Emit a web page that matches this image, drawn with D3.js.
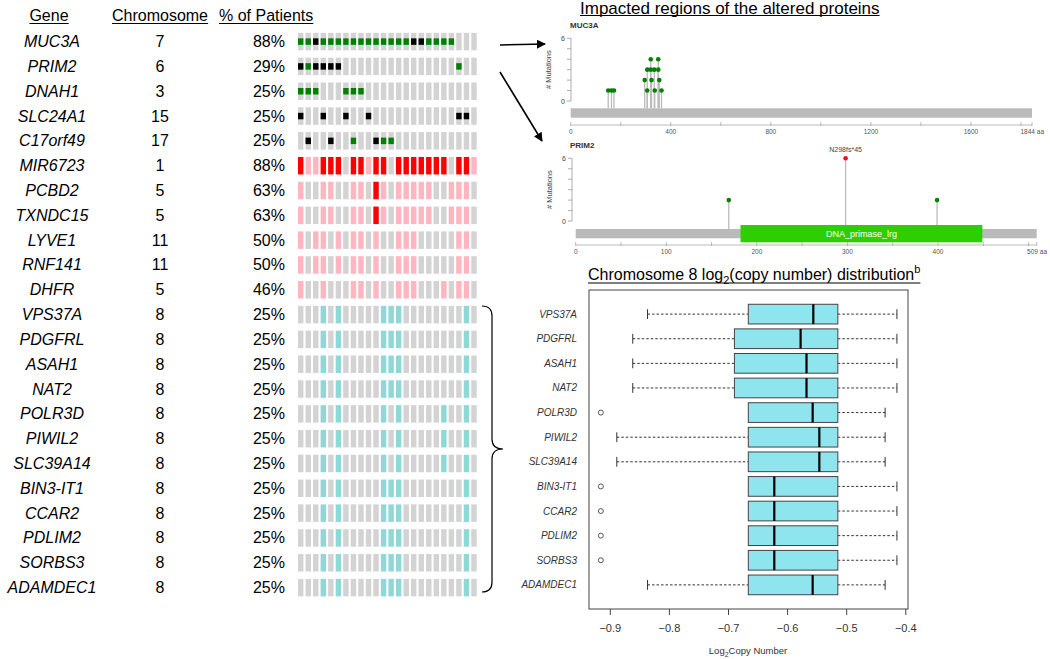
<!DOCTYPE html>
<html><head><meta charset="utf-8">
<script src="https://cdn.jsdelivr.net/npm/d3@7"></script>
<style>
body{margin:0;background:#fff}
svg{display:block}
text{font-family:"Liberation Sans",Arial,Helvetica,sans-serif}
</style>
</head><body>
<svg id="c" width="1050" height="659"></svg>
<script>
// ---------------- DATA ----------------
const genes = ["MUC3A","PRIM2","DNAH1","SLC24A1","C17orf49","MIR6723","PCBD2","TXNDC15","LYVE1","RNF141","DHFR",
  "VPS37A","PDGFRL","ASAH1","NAT2","POLR3D","PIWIL2","SLC39A14","BIN3-IT1","CCAR2","PDLIM2","SORBS3","ADAMDEC1"];
const chromosomes = ["7","6","3","15","17","1","5","5","11","11","5","8","8","8","8","8","8","8","8","8","8","8","8"];
const pctLabels = ["88%","29%","25%","25%","25%","88%","63%","63%","50%","50%","46%",
  "25%","25%","25%","25%","25%","25%","25%","25%","25%","25%","25%","25%"];
const patients = d3.range(1, 25);

// patient columns (1-based) carrying each alteration
const missense = {
  "MUC3A":[1,2,4,5,6,7,8,9,10,11,12,13,14,15,18,19,20,21],
  "PRIM2":[2,22],
  "DNAH1":[1,2,3,7,8,9],
  "C17orf49":[8,12,13]
};
const truncating = {
  "MUC3A":[3,16,17],
  "PRIM2":[1,3,4,5,6],
  "SLC24A1":[1,4,7,10,22,23],
  "C17orf49":[2,5,11]
};
const amplification = {
  "MIR6723":[1,4,5,6,8,9,11,12,14,15,16,17,18,19,20,22,23],
  "PCBD2":[11],
  "TXNDC15":[11]
};
const gain = {
  "MIR6723":[2,3,10,24],
  "PCBD2":[1,4,5,8,9,12,14,15,16,17,18,21,22,23],
  "TXNDC15":[1,4,5,8,9,12,14,15,16,17,18,21,22,23],
  "LYVE1":[1,3,4,6,8,9,11,14,15,16,22,23],
  "RNF141":[1,3,4,6,8,9,11,14,15,16,22,23],
  "DHFR":[1,4,8,9,11,14,15,16,20,22,23]
};
const shallowDel = {
  "VPS37A":[4,6,12,13,14,23],
  "PDGFRL":[4,6,12,13,14,23],
  "ASAH1":[4,6,12,13,14,23],
  "NAT2":[4,6,12,13,14,23],
  "POLR3D":[4,6,12,14,20,23],
  "PIWIL2":[4,6,12,14,20,23],
  "SLC39A14":[4,6,12,14,20,23],
  "BIN3-IT1":[4,6,12,13,14,23],
  "CCAR2":[4,6,12,13,14,23],
  "PDLIM2":[4,6,12,13,14,23],
  "SORBS3":[4,6,12,13,14,23],
  "ADAMDEC1":[4,6,12,13,14,23]
};

// lollipop plots
const muc3aLength = 1844;
const muc3aPos   = [150,163,173,296,306,306,320,320,323,334,336,350,350,354,363];
const muc3aCount = [1,1,1,2,3,1,4,3,2,3,1,4,3,2,1];
const muc3aTicks = [0,200,400,600,800,1000,1200,1400,1600,1800];
const muc3aTickLabels = [0,400,800,1200,1600];

const prim2Length = 509;
const prim2Pos   = [169,298,399];
const prim2Count = [2,6,2];
const prim2Type  = ["missense","truncating","missense"];
const prim2Labels = ["","N298fs*45",""];
const prim2DomainName = ["DNA_primase_lrg"];
const prim2DomainStart = [182];
const prim2DomainEnd = [449];
const prim2Ticks = [0,50,100,150,200,250,300,350,400,450,500];
const prim2TickLabels = [0,100,200,300,400];

// boxplot (chromosome 8 log2 copy number)
const boxGenes   = ["VPS37A","PDGFRL","ASAH1","NAT2","POLR3D","PIWIL2","SLC39A14","BIN3-IT1","CCAR2","PDLIM2","SORBS3","ADAMDEC1"];
const boxLow     = [-0.837,-0.862,-0.862,-0.862,-0.6665,-0.889,-0.889,-0.6665,-0.6665,-0.6665,-0.6665,-0.837];
const boxQ1      = [-0.6665,-0.690,-0.690,-0.690,-0.6665,-0.6665,-0.6665,-0.6665,-0.6665,-0.6665,-0.6665,-0.6665];
const boxMedian  = [-0.5565,-0.578,-0.568,-0.568,-0.5576,-0.5463,-0.5463,-0.6225,-0.6225,-0.6225,-0.6225,-0.5576];
const boxQ3      = [-0.515,-0.515,-0.515,-0.515,-0.515,-0.515,-0.515,-0.515,-0.515,-0.515,-0.515,-0.515];
const boxHigh    = [-0.415,-0.415,-0.415,-0.415,-0.435,-0.435,-0.435,-0.415,-0.415,-0.415,-0.415,-0.435];
const boxOutlier = [null,null,null,null,-0.916,null,null,-0.916,-0.916,-0.916,-0.916,null];
const boxTicks   = [-0.9,-0.8,-0.7,-0.6,-0.5,-0.4];

// ---------------- DRAW ----------------
const svg = d3.select("#c");
svg.append("rect").attr("width",1050).attr("height",659).attr("fill","#fff");

function underline(sel, dy, w) {
  const b = sel.node().getBBox();
  const y = +sel.attr("y") + dy;
  svg.append("line").attr("x1",b.x).attr("x2",b.x+b.width).attr("y1",y).attr("y2",y)
    .attr("stroke","#000").attr("stroke-width",w||1.2);
}

// headers
[["Gene",49,"middle"],["Chromosome",160,"middle"],["% of Patients",219,"start"]].forEach(h=>{
  const t = svg.append("text").attr("x",h[1]).attr("y",21).attr("text-anchor",h[2])
    .attr("font-size",16).text(h[0]);
  underline(t,2.5,1.1);
});

const yRow = d3.scalePoint().domain(genes).range([41.6,587.6]);
const xCol = d3.scaleBand().domain(patients).range([298,476.7]).paddingInner(0.28);
const cellH = 17.5, mutH = 6.5;

const rows = svg.append("g");
genes.forEach((g,i)=>{
  const y = yRow(g);
  rows.append("text").attr("x",52).attr("y",y+5.5).attr("text-anchor","middle")
    .attr("font-size",16).attr("font-style","italic").text(g);
  rows.append("text").attr("x",160).attr("y",y+5.5).attr("text-anchor","middle")
    .attr("font-size",16).text(chromosomes[i]);
  rows.append("text").attr("x",285).attr("y",y+5.5).attr("text-anchor","end")
    .attr("font-size",16).text(pctLabels[i]);
  patients.forEach(p=>{
    let fill = "#d3d3d3";
    if ((gain[g]||[]).includes(p)) fill = "#ffb6c1";
    if ((amplification[g]||[]).includes(p)) fill = "#ff0000";
    if ((shallowDel[g]||[]).includes(p)) fill = "#8fd8d8";
    rows.append("rect").attr("x",xCol(p)).attr("y",y-cellH/2).attr("width",xCol.bandwidth())
      .attr("height",cellH).attr("fill",fill);
    let mc = null;
    if ((missense[g]||[]).includes(p)) mc = "#008000";
    if ((truncating[g]||[]).includes(p)) mc = "#000000";
    if (mc) rows.append("rect").attr("x",xCol(p)).attr("y",y-mutH/2).attr("width",xCol.bandwidth())
      .attr("height",mutH).attr("fill",mc);
  });
});

// brace
const bTop = 306, bBot = 592, bMid = (bTop+bBot)/2;
svg.append("path").attr("fill","none").attr("stroke","#000").attr("stroke-width",1.2)
  .attr("d",`M482,${bTop} Q492,${bTop} 492,${bTop+10} L492,${bMid-10} Q492,${bMid} 503,${bMid} Q492,${bMid} 492,${bMid+10} L492,${bBot-10} Q492,${bBot} 482,${bBot}`);

// arrows
const defs = svg.append("defs");
defs.append("marker").attr("id","ah").attr("viewBox","0 0 10 10").attr("refX",9).attr("refY",5)
  .attr("markerWidth",9).attr("markerHeight",9).attr("markerUnits","userSpaceOnUse").attr("orient","auto")
  .append("path").attr("d","M0,0 L10,5 L0,10 Z").attr("fill","#000");
svg.append("line").attr("x1",500).attr("y1",45).attr("x2",545).attr("y2",44)
  .attr("stroke","#000").attr("stroke-width",1.6).attr("marker-end","url(#ah)");
svg.append("line").attr("x1",500).attr("y1",72).attr("x2",542).attr("y2",141)
  .attr("stroke","#000").attr("stroke-width",1.6).attr("marker-end","url(#ah)");

// lollipop section title
const lt = svg.append("text").attr("x",580).attr("y",13.5).attr("font-size",17)
  .text("Impacted regions of the altered proteins");
underline(lt,2,1.1);

function lollipop(o) {
  const g = svg.append("g");
  g.append("text").attr("x",o.titleX).attr("y",o.titleY).attr("font-size",8).attr("font-weight","bold")
    .attr("fill","#333").text(o.title);
  // y axis
  g.append("line").attr("x1",o.yAxisX).attr("x2",o.yAxisX).attr("y1",o.y(0)).attr("y2",o.y(6))
    .attr("stroke","#999").attr("stroke-width",0.8);
  d3.range(0,7).forEach(v=>{
    g.append("line").attr("x1",o.yAxisX-4).attr("x2",o.yAxisX).attr("y1",o.y(v)).attr("y2",o.y(v))
      .attr("stroke","#999").attr("stroke-width",0.8);
  });
  [0,6].forEach(v=>g.append("text").attr("x",o.yAxisX-6).attr("y",o.y(v)+2.5).attr("text-anchor","end")
    .attr("font-size",7).attr("fill","#444").text(v));
  const my = (o.y(0)+o.y(6))/2;
  g.append("text").attr("transform",`translate(${o.yAxisX-20},${my}) rotate(-90)`).attr("text-anchor","middle")
    .attr("font-size",7.5).attr("fill","#444").text("# Mutations");
  // stems & dots
  o.pos.forEach((p,i)=>{
    g.append("line").attr("x1",o.x(p)).attr("x2",o.x(p)).attr("y1",o.barY0).attr("y2",o.y(o.count[i]))
      .attr("stroke","#bbb").attr("stroke-width",1.3);
  });
  // backbone
  g.append("rect").attr("x",o.x(0)).attr("y",o.barY0).attr("width",o.x(o.len)-o.x(0))
    .attr("height",o.barY1-o.barY0).attr("fill","#bababa");
  (o.domains||[]).forEach(d=>{
    g.append("rect").attr("x",o.x(d.s)).attr("y",o.domY0).attr("width",o.x(d.e)-o.x(d.s))
      .attr("height",o.domY1-o.domY0).attr("fill","#2dcf00");
    g.append("text").attr("x",(o.x(d.s)+o.x(d.e))/2).attr("y",(o.domY0+o.domY1)/2+3)
      .attr("text-anchor","middle").attr("font-size",9).attr("fill","#fff").text(d.name);
  });
  o.pos.forEach((p,i)=>{
    g.append("circle").attr("cx",o.x(p)).attr("cy",o.y(o.count[i])).attr("r",2.3)
      .attr("fill",o.colors[i]);
    if (o.labels && o.labels[i]) g.append("text").attr("x",o.x(p)).attr("y",o.y(o.count[i])-6)
      .attr("text-anchor","middle").attr("font-size",7).attr("fill","#444").text(o.labels[i]);
  });
  // x axis
  g.append("line").attr("x1",o.x(0)).attr("x2",o.x(o.len)).attr("y1",o.axisY).attr("y2",o.axisY)
    .attr("stroke","#aaa").attr("stroke-width",0.8);
  o.ticks.concat([o.len]).forEach(t=>{
    g.append("line").attr("x1",o.x(t)).attr("x2",o.x(t)).attr("y1",o.axisY-3).attr("y2",o.axisY+1)
      .attr("stroke","#aaa").attr("stroke-width",0.8);
  });
  o.tickLabels.forEach(t=>g.append("text").attr("x",o.x(t)).attr("y",o.axisY+9).attr("text-anchor","middle")
    .attr("font-size",6.5).attr("fill","#555").text(t));
  g.append("text").attr("x",Math.min(o.x(o.len)+12,1047)).attr("y",o.axisY+9).attr("text-anchor","end")
    .attr("font-size",6.5).attr("fill","#555").text(o.len+" aa");
}

lollipop({
  title:"MUC3A", titleX:570, titleY:28, len:muc3aLength,
  x:d3.scaleLinear().domain([0,muc3aLength]).range([570.7,1032]),
  y:d3.scaleLinear().domain([0,6]).range([101,38.3]),
  yAxisX:571, barY0:108.3, barY1:117.7, axisY:125,
  pos:muc3aPos, count:muc3aCount, colors:muc3aPos.map(()=>"#008000"),
  ticks:muc3aTicks, tickLabels:muc3aTickLabels
});
lollipop({
  title:"PRIM2", titleX:570, titleY:148, len:prim2Length,
  x:d3.scaleLinear().domain([0,prim2Length]).range([575.7,1036.7]),
  y:d3.scaleLinear().domain([0,6]).range([221,158.3]),
  yAxisX:572, barY0:229, barY1:238.3, axisY:245, domY0:225, domY1:242.3,
  domains:prim2DomainName.map((n,i)=>({name:n,s:prim2DomainStart[i],e:prim2DomainEnd[i]})),
  pos:prim2Pos, count:prim2Count, labels:prim2Labels,
  colors:prim2Type.map(t=>t==="truncating"?"#e8141c":"#008000"),
  ticks:prim2Ticks, tickLabels:prim2TickLabels
});

// ---------------- BOXPLOT ----------------
const bt = svg.append("text").attr("x",588).attr("y",280).attr("font-size",16);
bt.append("tspan").text("Chromosome 8 log");
bt.append("tspan").attr("font-size",11).attr("dy",4).text("2");
bt.append("tspan").attr("dy",-4).text("(copy number) distribution");
bt.append("tspan").attr("font-size",11).attr("dy",-7).text("b");
underline(bt.attr("y",280),3,1.1);

const xB = d3.scaleLinear().domain([-0.9,-0.4]).range([610.3,905.8]);
const yB = d3.scaleLinear().domain([0.02,12.98]).range([609,290]);
const unit = yB(0)-yB(1);
const bg = svg.append("g");
bg.append("rect").attr("x",589).attr("y",290).attr("width",319).attr("height",319)
  .attr("fill","none").attr("stroke","#444").attr("stroke-width",1);

boxGenes.forEach((g,i)=>{
  const cy = yB(12-i), hh = unit*0.4, sh = unit*0.2;
  bg.append("text").attr("x",577).attr("y",cy+3.5).attr("text-anchor","end").attr("font-size",10)
    .attr("font-style","italic").attr("fill","#333").text(g);
  if (boxLow[i] < boxQ1[i]) {
    bg.append("line").attr("x1",xB(boxLow[i])).attr("x2",xB(boxQ1[i])).attr("y1",cy).attr("y2",cy)
      .attr("stroke","#333").attr("stroke-dasharray","2.5,2");
    bg.append("line").attr("x1",xB(boxLow[i])).attr("x2",xB(boxLow[i])).attr("y1",cy-sh).attr("y2",cy+sh)
      .attr("stroke","#333");
  }
  bg.append("line").attr("x1",xB(boxQ3[i])).attr("x2",xB(boxHigh[i])).attr("y1",cy).attr("y2",cy)
    .attr("stroke","#333").attr("stroke-dasharray","2.5,2");
  bg.append("line").attr("x1",xB(boxHigh[i])).attr("x2",xB(boxHigh[i])).attr("y1",cy-sh).attr("y2",cy+sh)
    .attr("stroke","#333");
  bg.append("rect").attr("x",xB(boxQ1[i])).attr("y",cy-hh).attr("width",xB(boxQ3[i])-xB(boxQ1[i]))
    .attr("height",2*hh).attr("fill","#8ee5ee").attr("stroke","#444").attr("stroke-width",1);
  bg.append("line").attr("x1",xB(boxMedian[i])).attr("x2",xB(boxMedian[i])).attr("y1",cy-hh).attr("y2",cy+hh)
    .attr("stroke","#000").attr("stroke-width",2.2);
  if (boxOutlier[i] !== null) bg.append("circle").attr("cx",xB(boxOutlier[i])).attr("cy",cy).attr("r",2.5)
    .attr("fill","none").attr("stroke","#444").attr("stroke-width",0.9);
});
boxTicks.forEach(t=>{
  bg.append("line").attr("x1",xB(t)).attr("x2",xB(t)).attr("y1",609).attr("y2",615).attr("stroke","#444");
  bg.append("text").attr("x",xB(t)).attr("y",632).attr("text-anchor","middle").attr("font-size",11)
    .attr("fill","#333").text(d3.format(".1f")(t).replace("-","\u2212"));
});
const xt = bg.append("text").attr("x",748).attr("y",654).attr("text-anchor","middle").attr("font-size",9.5).attr("fill","#333");
xt.append("tspan").text("Log");
xt.append("tspan").attr("font-size",7).attr("dy",2.5).text("2");
xt.append("tspan").attr("dy",-2.5).text("Copy Number");
</script>
</body></html>
